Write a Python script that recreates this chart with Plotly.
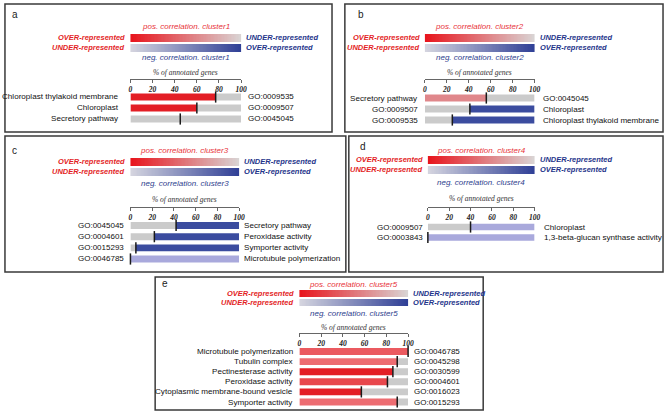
import numpy as np
import plotly.graph_objects as go

# ---------------- data ----------------
a_names = ["Chloroplast thylakoid membrane", "Chloroplast", "Secretory pathway"]
a_go = ["GO:0009535", "GO:0009507", "GO:0045045"]
a_pct = [77, 60, 45]
a_status = ["R", "R", "n"]

b_names = ["Secretory pathway", "Chloroplast", "Chloroplast thylakoid membrane"]
b_go = ["GO:0045045", "GO:0009507", "GO:0009535"]
b_pct = [56, 41, 25]
b_status = ["P", "B", "B"]

c_names = ["Secretory pathway", "Peroxidase activity", "Symporter activity", "Microtubule polymerization"]
c_go = ["GO:0045045", "GO:0004601", "GO:0015293", "GO:0046785"]
c_pct = [42, 22, 5, 0]
c_status = ["B", "B", "B", "b"]

d_names = ["Chloroplast", "1,3-beta-glucan synthase activity"]
d_go = ["GO:0009507", "GO:0003843"]
d_pct = [40, 0]
d_status = ["b", "b"]

e_names = ["Microtubule polymerization", "Tubulin complex", "Pectinesterase activity",
           "Peroxidase activity", "Cytoplasmic membrane-bound vesicle", "Symporter activity"]
e_go = ["GO:0046785", "GO:0045298", "GO:0030599", "GO:0004601", "GO:0016023", "GO:0015293"]
e_pct = [100, 90, 86, 81, 57, 90]
e_status = ["q", "p", "R", "r", "R", "p"]

panel_letters = ["a", "b", "c", "d", "e"]
cluster_ids = [1, 2, 3, 4, 5]
tick_values = [0, 20, 40, 60, 80, 100]

# ---------------- style / layout ----------------
W, H = 671, 412
GRAY = "#cbcbcb"
COL = {"R": "#e31e25", "r": "#e8474c", "q": "#eb5a60", "p": "#ed6c71", "P": "#e0878b",
       "B": "#3b4c9f", "b": "#a9a9dc", "n": GRAY}
NEG = {"B", "b"}
RED_TXT = "#e31e25"
NAVY_TXT = "#24348a"

geom = [
    dict(box=(3, 4, 334, 132), letter=(8, 15), bx=(130, 242), rows=(97, 119), grad=(33, 53),
         axis=79, pos=27, neg=58, pct=72, lgap=9, rgap=5, w=0.62),
    dict(box=(347, 4, 669, 132), letter=(358, 15), bx=(428, 539), rows=(98, 120), grad=(33, 53),
         axis=79, pos=27, neg=58, pct=72, lgap=5, rgap=6, w=0.62),
    dict(box=(3, 136, 348, 272), letter=(8, 151), bx=(130, 240), rows=(225.5, 259), grad=(157, 177),
         axis=207, pos=151, neg=183, pct=199, lgap=4, rgap=3, w=0.62),
    dict(box=(351, 136, 669, 272), letter=(360, 147), bx=(431, 539), rows=(227, 237.5), grad=(155, 175),
         axis=207, pos=150, neg=182, pct=198, lgap=3, rgap=7, w=0.64),
    dict(box=(155, 277, 487, 410), letter=(160, 283), bx=(301, 411), rows=(351.5, 402), grad=(289, 307),
         axis=333, pos=284, neg=313, pct=327, lgap=4, rgap=4, w=0.68),
]

panels = [
    (a_names, a_go, a_pct, a_status),
    (b_names, b_go, b_pct, b_status),
    (c_names, c_go, c_pct, c_status),
    (d_names, d_go, d_pct, d_status),
    (e_names, e_go, e_pct, e_status),
]


def px(x):
    return x / W


def py(y):
    return 1 - y / H


SANS = "Liberation Sans"
SERIF = "Liberation Serif"

fig = go.Figure()
layout = {}
annotations = []
shapes = []

ramp = np.linspace(0, 1, 80)           # gradient legend ramp (not data)
ramp_x = np.linspace(0, 100, 80)

for k, ((names, gos, pct, status), g) in enumerate(zip(panels, geom), start=1):
    xa = f"x{k}"
    ya = f"y{k}"
    yg = f"y{k + 5}"
    xkey = "xaxis" if k == 1 else f"xaxis{k}"
    ykey = "yaxis" if k == 1 else f"yaxis{k}"
    ygkey = f"yaxis{k + 5}"
    n = len(names)
    first, last = g["rows"]
    sp = (last - first) / (n - 1) if n > 1 else 11
    top = first - sp / 2
    bot = last + sp / 2

    layout[xkey] = dict(domain=[px(g["bx"][0]), px(g["bx"][1])], range=[0, 100], anchor="free",
                        position=py(g["axis"]), side="bottom", showline=True, linecolor="#666",
                        linewidth=1, ticks="outside", ticklen=3, tickcolor="#666", tickwidth=1,
                        tickvals=tick_values, showgrid=False, zeroline=False,
                        tickfont=dict(family=SERIF, size=7.5, color="#222", weight="bold", style="italic"),
                        fixedrange=True)
    layout[ykey] = dict(domain=[py(bot), py(top)], range=[n - 0.5, -0.5], anchor=xa,
                        showticklabels=False, showgrid=False, zeroline=False, fixedrange=True)
    layout[ygkey] = dict(domain=[py(g["grad"][1]), py(g["grad"][0])], range=[-0.5, 1.5], anchor=xa,
                         showticklabels=False, showgrid=False, zeroline=False, fixedrange=True)

    idx = list(range(n))
    c1 = [GRAY if s in NEG else COL[s] for s in status]
    c2 = [COL[s] if s in NEG else GRAY for s in status]
    fig.add_trace(go.Bar(y=idx, x=pct, base=[0] * n, orientation="h", width=g["w"],
                         marker=dict(color=c1, line=dict(width=0)), xaxis=xa, yaxis=ya,
                         hoverinfo="skip", showlegend=False))
    fig.add_trace(go.Bar(y=idx, x=[100 - v for v in pct], base=pct, orientation="h", width=g["w"],
                         marker=dict(color=c2, line=dict(width=0)), xaxis=xa, yaxis=ya,
                         hoverinfo="skip", showlegend=False))
    fig.add_trace(go.Scatter(y=idx, x=pct, mode="markers", xaxis=xa, yaxis=ya,
                             marker=dict(symbol="line-ns", size=8, color="#1a1a1a",
                                         line=dict(width=1.5, color="#1a1a1a")),
                             hoverinfo="skip", showlegend=False, cliponaxis=False))

    # gradient legend
    fig.add_trace(go.Heatmap(z=[ramp], x=ramp_x, y=[1], xaxis=xa, yaxis=yg, ygap=2,
                             colorscale=[[0, "#e8141c"], [1, "#d9d5d5"]], showscale=False,
                             hoverinfo="skip"))
    fig.add_trace(go.Heatmap(z=[ramp], x=ramp_x, y=[0], xaxis=xa, yaxis=yg, ygap=2,
                             colorscale=[[0, "#d6d6e0"], [1, "#2f3f96"]], showscale=False,
                             hoverinfo="skip"))

    f_or = dict(family=SANS, size=7.5, weight="bold", style="italic")
    annotations += [
        dict(xref=xa, yref=yg, x=0, y=1, xanchor="right", yanchor="middle", xshift=-3,
             text="OVER-represented", showarrow=False, font=dict(f_or, color=RED_TXT)),
        dict(xref=xa, yref=yg, x=0, y=0, xanchor="right", yanchor="middle", xshift=-3,
             text="UNDER-represented", showarrow=False, font=dict(f_or, color=RED_TXT)),
        dict(xref=xa, yref=yg, x=100, y=1, xanchor="left", yanchor="middle", xshift=3,
             text="UNDER-represented", showarrow=False, font=dict(f_or, color=NAVY_TXT)),
        dict(xref=xa, yref=yg, x=100, y=0, xanchor="left", yanchor="middle", xshift=3,
             text="OVER-represented", showarrow=False, font=dict(f_or, color=NAVY_TXT)),
        dict(xref=xa, yref="paper", x=50, y=py(g["pos"]), xanchor="center", yanchor="middle",
             text=f"pos. correlation. cluster{cluster_ids[k - 1]}", showarrow=False,
             font=dict(family=SANS, size=8, style="italic", color="#e8333a")),
        dict(xref=xa, yref="paper", x=50, y=py(g["neg"]), xanchor="center", yanchor="middle",
             text=f"neg. correlation. cluster{cluster_ids[k - 1]}", showarrow=False,
             font=dict(family=SANS, size=8, style="italic", color="#2e3e8e")),
        dict(xref=xa, yref="paper", x=50, y=py(g["pct"]), xanchor="center", yanchor="middle",
             text="% of annotated genes", showarrow=False,
             font=dict(family=SERIF, size=7.5, style="italic", color="#333")),
        dict(xref="paper", yref="paper", x=px(g["letter"][0]), y=py(g["letter"][1]),
             xanchor="left", yanchor="middle", text=panel_letters[k - 1], showarrow=False,
             font=dict(family=SANS, size=10, color="#222")),
    ]
    for i in idx:
        if status[i] in NEG:
            left, right = gos[i], names[i]
            lsize, rsize = 8, 8.1
        else:
            left, right = names[i], gos[i]
            lsize, rsize = 8.1, 8
        annotations.append(dict(xref=xa, yref=ya, x=0, y=i, xanchor="right", yanchor="middle",
                                xshift=-g["lgap"], text=left, showarrow=False,
                                font=dict(family=SANS, size=lsize, color="#111")))
        annotations.append(dict(xref=xa, yref=ya, x=100, y=i, xanchor="left", yanchor="middle",
                                xshift=g["rgap"], text=right, showarrow=False,
                                font=dict(family=SANS, size=rsize, color="#111")))

    x0, y0, x1, y1 = g["box"]
    shapes.append(dict(type="rect", xref="paper", yref="paper", x0=px(x0), x1=px(x1),
                       y0=py(y1), y1=py(y0), line=dict(color="#3a3a3a", width=1.5),
                       fillcolor="rgba(0,0,0,0)", layer="below"))

fig.update_layout(width=W, height=H, margin=dict(l=0, r=0, t=0, b=0), paper_bgcolor="white",
                  plot_bgcolor="rgba(0,0,0,0)", barmode="overlay", showlegend=False,
                  annotations=annotations, shapes=shapes, **layout)

fig.write_html("out.html", config={"displayModeBar": False},
               post_script="document.body.style.margin='0';document.body.style.overflow='hidden';")
